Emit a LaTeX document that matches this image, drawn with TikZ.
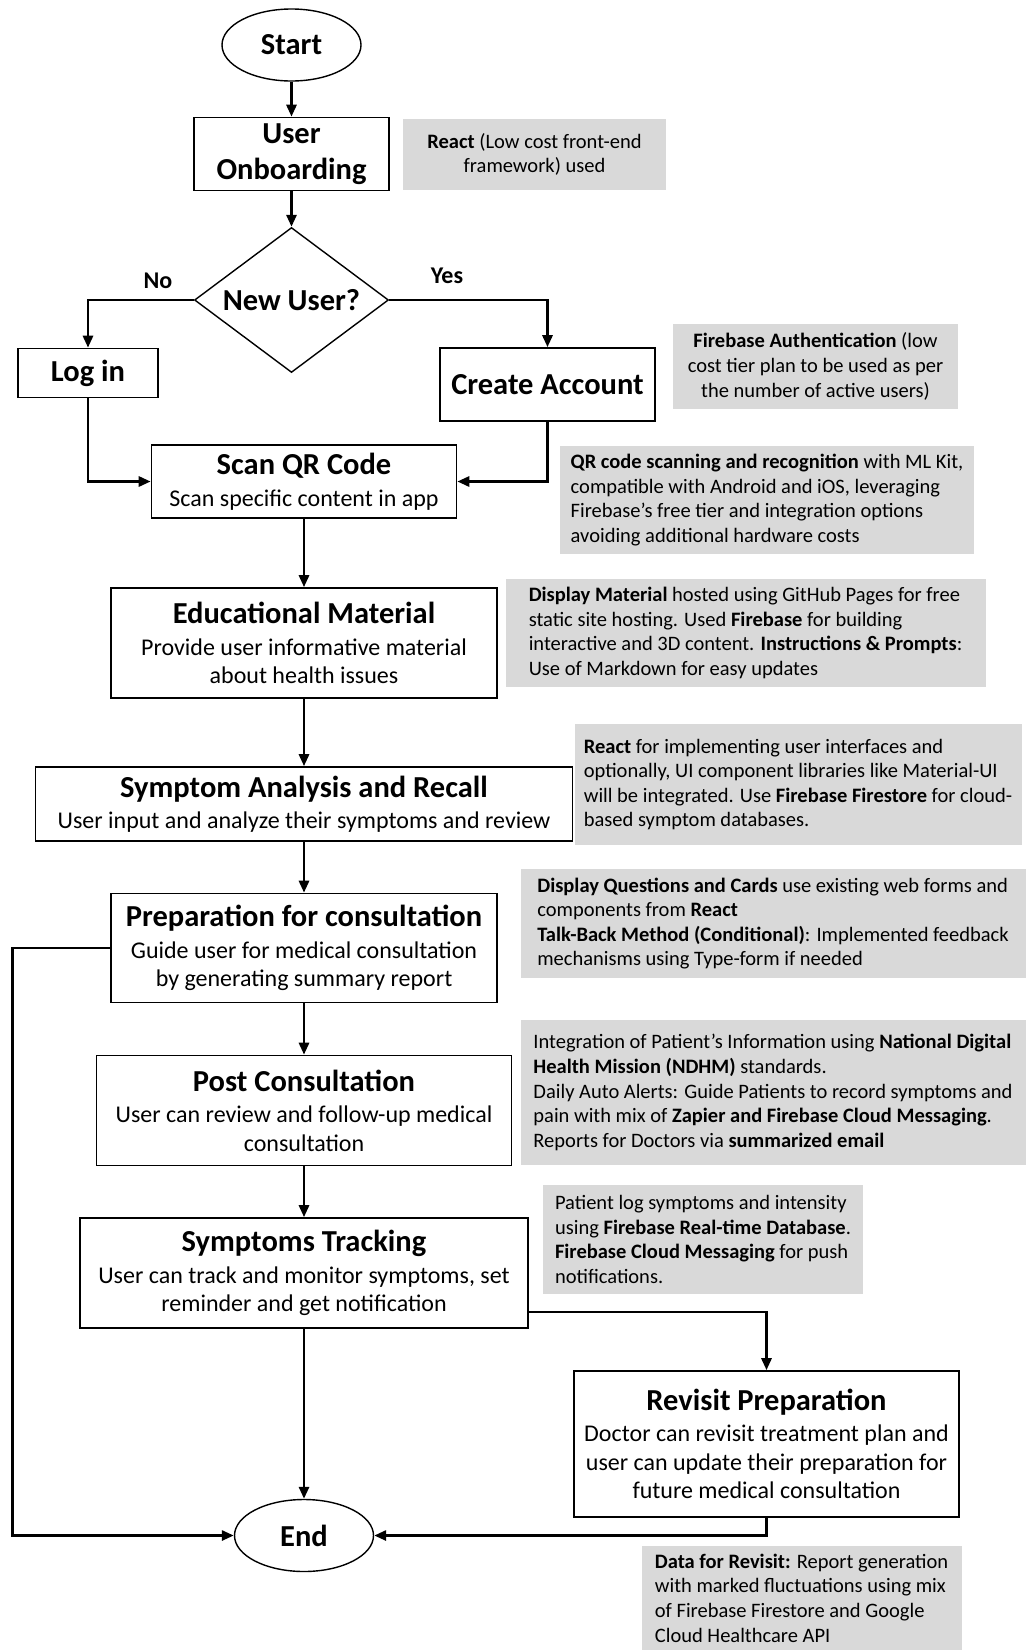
\documentclass[tikz,border=0pt]{standalone}
\usepackage{fontspec}
\setmainfont{Carlito}
\usepackage{xcolor}
\usetikzlibrary{shapes.geometric,arrows.meta}
\definecolor{notegray}{RGB}{217,217,217}
\newcommand{\boxtitle}[1]{{\fontsize{30.5}{34}\selectfont\bfseries #1}}

\begin{document}
\begin{tikzpicture}[x=1pt,y=-1pt,
        procbox/.style={draw,line width=1.6pt,fill=white,align=center,inner sep=0pt,font=\fontsize{24}{28.5}\selectfont},
        notebox/.style={fill=notegray,inner sep=0pt,font=\fontsize{20.5}{24.6}\selectfont},
        termnode/.style={ellipse,draw,line width=1.4pt,minimum width=139pt,minimum height=72pt,inner sep=0pt,font=\fontsize{30.5}{34}\selectfont\bfseries},
        decnode/.style={diamond,draw,line width=1.4pt,aspect=1.34,minimum width=194pt,minimum height=145pt,inner sep=0pt,font=\fontsize{30.5}{34}\selectfont\bfseries},
        branchlabel/.style={font=\fontsize{24}{28}\selectfont\bfseries},
        flowline/.style={line width=2.8pt,-{Triangle[length=12pt,width=10pt]}}]
        \useasboundingbox (0,0) rectangle (1030,1650);

        \node[termnode] (start) at (291.5,45) {Start};
        \node[procbox,minimum width=195pt,minimum height=73pt,font=\fontsize{30.5}{36}\selectfont\bfseries] (onboard) at (291.5,154) {User\\Onboarding};
        \node[notebox,align=center,minimum width=263pt,minimum height=71pt] (noteonboard) at (534.5,154.5) {\textbf{React} (Low cost front-end\\framework) used};
        \node[decnode] (newuser) at (291.5,300) {New User?};
        \node[branchlabel] (nolabel) at (158,281) {No};
        \node[branchlabel] (yeslabel) at (447,276) {Yes};
        \node[procbox,minimum width=140pt,minimum height=49pt] (login) at (88,373) {\boxtitle{Log in}};
        \node[procbox,minimum width=215pt,minimum height=73pt] (create) at (547.5,384.5) {\boxtitle{Create Account}};
        \node[notebox,align=center,minimum width=285pt,minimum height=85pt] (noteauth) at (815.5,366.5) {\textbf{Firebase Authentication} (low\\cost tier plan to be used as per\\the number of active users)};

        \node[procbox,minimum width=305pt,minimum height=73pt] (scanqr) at (304,481.5) {\boxtitle{Scan QR Code}\\[3pt]Scan specific content in app};
        \node[notebox,align=left,minimum width=414pt,minimum height=108pt] (notescan) at (767,500) {\textbf{QR code scanning and recognition} with ML Kit,\\compatible with Android and iOS, leveraging\\Firebase’s free tier and integration options\\avoiding additional hardware costs};

        \node[procbox,minimum width=386pt,minimum height=110pt] (edu) at (304,643) {\boxtitle{Educational Material}\\[3pt]Provide user informative material\\about health issues};
        \node[notebox,align=left,minimum width=480pt,minimum height=108pt] (noteedu) at (745.5,633) {\textbf{Display Material} hosted using GitHub Pages for free\\static site hosting. Used \textbf{Firebase} for building\\interactive and 3D content. \textbf{Instructions \& Prompts}:\\Use of Markdown for easy updates};

        \node[procbox,minimum width=537pt,minimum height=74pt] (symptom) at (304,804) {\boxtitle{Symptom Analysis and Recall}\\[3pt]User input and analyze their symptoms and review};
        \node[notebox,align=left,minimum width=447pt,minimum height=121pt] (notesymptom) at (798,784.5) {\textbf{React} for implementing user interfaces and\\optionally, UI component libraries like Material-UI\\will be integrated. Use \textbf{Firebase Firestore} for cloud-\\based symptom databases.};

        \node[procbox,minimum width=386pt,minimum height=109pt] (prep) at (304,948) {\boxtitle{Preparation for consultation}\\[3pt]Guide user for medical consultation\\by generating summary report};
        \node[notebox,align=left,minimum width=505pt,minimum height=109pt] (noteprep) at (773,923.5) {\textbf{Display Questions and Cards} use existing web forms and\\components from \textbf{React}\\\textbf{Talk-Back Method (Conditional)}: Implemented feedback\\mechanisms using Type-form if needed};

        \node[procbox,minimum width=415pt,minimum height=110pt] (post) at (304,1110.5) {\boxtitle{Post Consultation}\\[3pt]User can review and follow-up medical\\consultation};
        \node[notebox,align=left,minimum width=505pt,minimum height=145pt] (notepost) at (773,1092.5) {Integration of Patient’s Information using \textbf{National Digital}\\\textbf{Health Mission (NDHM)} standards.\\Daily Auto Alerts: Guide Patients to record symptoms and\\pain with mix of \textbf{Zapier and Firebase Cloud Messaging}.\\Reports for Doctors via \textbf{summarized email}};

        \node[procbox,minimum width=448pt,minimum height=110pt] (track) at (304,1273) {\boxtitle{Symptoms Tracking}\\[3pt]User can track and monitor symptoms, set\\reminder and get notification};
        \node[notebox,align=left,minimum width=320pt,minimum height=109pt] (notetrack) at (703,1239.5) {Patient log symptoms and intensity\\using \textbf{Firebase Real-time Database}.\\\textbf{Firebase Cloud Messaging} for push\\notifications.};

        \node[procbox,minimum width=385pt,minimum height=146pt] (revisit) at (766.5,1444) {\boxtitle{Revisit Preparation}\\[3pt]Doctor can revisit treatment plan and\\user can update their preparation for\\future medical consultation};
        \node[termnode] (endnode) at (304,1535.5) {End};
        \node[notebox,align=left,minimum width=320pt,minimum height=104pt] (noterevisit) at (801.5,1598) {\textbf{Data for Revisit:} Report generation\\with marked fluctuations using mix\\of Firebase Firestore and Google\\Cloud Healthcare API};

        \draw[flowline] (start) -- (onboard);
        \draw[flowline] (onboard) -- (newuser);
        \draw[flowline] (newuser.west) -| (login.north);
        \draw[flowline] (newuser.east) -| (create.north);
        \draw[flowline] (login.south) |- (scanqr.west);
        \draw[flowline] (create.south) |- (scanqr.east);
        \draw[flowline] (scanqr) -- (edu);
        \draw[flowline] (edu) -- (symptom);
        \draw[flowline] (symptom) -- (prep);
        \draw[flowline] (prep) -- (post);
        \draw[flowline] (post) -- (track);
        \draw[flowline] (track) -- (endnode);
        \draw[flowline] ([yshift=-39pt]track.east) -| (revisit.north);
        \draw[flowline] (prep.west) -- ++(-98,0) |- (endnode.west);
        \draw[flowline] (revisit.south) |- (endnode.east);
    \end{tikzpicture}
\end{document}
